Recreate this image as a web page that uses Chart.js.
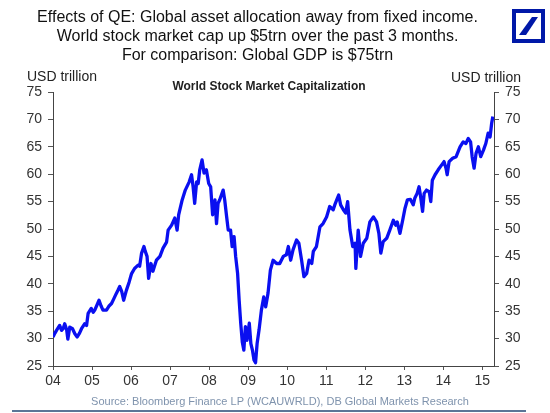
<!DOCTYPE html>
<html lang="en">
<head>
<meta charset="UTF-8">
<title>World Stock Market Capitalization</title>
<script src="https://cdn.jsdelivr.net/npm/chart.js@4.4.0"></script>
<style>
  html, body { margin: 0; padding: 0; background: #fff; }
  #wrap { width: 550px; height: 413px; position: relative; }
</style>
</head>
<body>
<div id="wrap"><canvas id="myChart"></canvas></div>
<script>
// Headline, labels and source line
const headline = [
  'Effects of QE: Global asset allocation away from fixed income.',
  'World stock market cap up $5trn over the past 3 months.',
  'For comparison: Global GDP is $75trn'
];
const chartTitle = 'World Stock Market Capitalization';
const unitLabel = 'USD trillion';
const sourceNote = 'Source: Bloomberg Finance LP (WCAUWRLD), DB Global Markets Research';

// Market cap (decimal year -> USD trillion)
const years = [
  2004.00, 2004.05, 2004.09, 2004.17, 2004.22, 2004.26, 2004.30, 2004.35, 2004.38, 2004.43,
  2004.50, 2004.56, 2004.62, 2004.68, 2004.73, 2004.81, 2004.86, 2004.90, 2004.98, 2005.03,
  2005.07, 2005.18, 2005.23, 2005.28, 2005.37, 2005.43, 2005.50, 2005.56, 2005.62, 2005.67,
  2005.71, 2005.76, 2005.81, 2005.88, 2005.95, 2006.01, 2006.09, 2006.18, 2006.22, 2006.27,
  2006.33, 2006.36, 2006.41, 2006.45, 2006.51, 2006.56, 2006.60, 2006.65, 2006.74, 2006.82,
  2006.91, 2006.95, 2007.04, 2007.12, 2007.18, 2007.22, 2007.31, 2007.39, 2007.49, 2007.55,
  2007.59, 2007.63, 2007.68, 2007.72, 2007.76, 2007.82, 2007.87, 2007.93, 2007.99, 2008.04,
  2008.09, 2008.15, 2008.19, 2008.23, 2008.27, 2008.36, 2008.40, 2008.45, 2008.49, 2008.55,
  2008.59, 2008.64, 2008.68, 2008.73, 2008.77, 2008.81, 2008.85, 2008.89, 2008.93, 2008.97,
  2009.03, 2009.07, 2009.11, 2009.15, 2009.19, 2009.23, 2009.28, 2009.34, 2009.40, 2009.45,
  2009.51, 2009.57, 2009.64, 2009.73, 2009.81, 2009.90, 2009.98, 2010.03, 2010.09, 2010.15,
  2010.24, 2010.30, 2010.37, 2010.43, 2010.50, 2010.56, 2010.63, 2010.67, 2010.75, 2010.84,
  2010.92, 2011.01, 2011.09, 2011.18, 2011.22, 2011.27, 2011.32, 2011.37, 2011.44, 2011.50,
  2011.55, 2011.61, 2011.68, 2011.74, 2011.76, 2011.82, 2011.88, 2011.95, 2012.04, 2012.12,
  2012.21, 2012.29, 2012.35, 2012.40, 2012.46, 2012.55, 2012.63, 2012.72, 2012.78, 2012.82,
  2012.89, 2012.96, 2013.02, 2013.08, 2013.16, 2013.23, 2013.27, 2013.33, 2013.38, 2013.42,
  2013.47, 2013.51, 2013.57, 2013.64, 2013.68, 2013.72, 2013.79, 2013.87, 2013.96, 2014.02,
  2014.07, 2014.10, 2014.15, 2014.24, 2014.33, 2014.43, 2014.51, 2014.58, 2014.64, 2014.70,
  2014.74, 2014.79, 2014.84, 2014.90, 2014.96, 2015.03, 2015.09, 2015.15, 2015.20, 2015.24,
  2015.27
];
const capTrn = [
  30.3, 31.0, 31.5, 32.4, 31.5, 31.8, 32.7, 31.6, 29.9, 32.1,
  31.8, 30.9, 30.3, 31.0, 31.8, 32.7, 32.4, 34.6, 35.5, 34.8,
  35.2, 37.0, 36.0, 35.2, 35.2, 35.9, 36.4, 37.3, 38.2, 38.9,
  39.5, 38.6, 37.0, 38.8, 40.3, 41.8, 42.8, 43.4, 43.2, 45.6,
  46.8, 46.0, 45.0, 41.0, 43.7, 42.3, 43.2, 44.3, 45.0, 46.5,
  47.6, 49.8, 50.7, 52.0, 49.8, 52.6, 55.3, 57.1, 58.6, 59.9,
  57.7, 54.7, 58.6, 58.3, 60.8, 62.6, 60.2, 60.8, 58.3, 57.7,
  52.6, 55.3, 51.0, 54.7, 55.3, 57.1, 55.3, 52.2, 49.8, 49.8,
  46.8, 48.6, 45.0, 41.9, 37.0, 32.8, 29.4, 27.9, 32.2, 29.7,
  32.8, 29.1, 27.9, 26.1, 25.6, 29.1, 31.6, 35.2, 37.6, 35.8,
  38.3, 42.5, 44.3, 43.7, 43.7, 45.0, 45.3, 46.8, 44.3, 46.2,
  48.0, 47.4, 44.3, 41.3, 41.9, 44.3, 43.7, 45.9, 46.8, 50.4,
  51.0, 52.2, 54.1, 53.5, 54.4, 55.3, 56.2, 54.4, 53.5, 52.9,
  55.0, 49.8, 46.8, 47.4, 42.8, 49.8, 45.0, 47.4, 48.3, 51.3,
  52.2, 51.3, 49.2, 45.6, 47.7, 48.3, 49.8, 51.6, 50.7, 51.3,
  49.2, 51.6, 53.8, 55.3, 55.4, 54.4, 55.6, 56.5, 57.7, 55.9,
  53.2, 56.5, 57.1, 56.8, 55.0, 58.9, 59.9, 60.8, 61.7, 62.3,
  61.1, 59.9, 62.3, 62.9, 63.2, 65.0, 65.9, 65.6, 66.5, 65.9,
  63.2, 61.1, 63.8, 65.0, 63.2, 64.4, 65.6, 67.5, 66.8, 69.3,
  70.5
];

const FONT = '"Liberation Sans", Arial, sans-serif';

// texts around the plot + logo
const decor = {
  id: 'decor',
  afterDraw(chart) {
    const c = chart.ctx;
    c.save();
    c.textBaseline = 'middle';
    c.fillStyle = '#111';
    c.textAlign = 'center';
    c.font = '16px ' + FONT;
    headline.forEach((t, i) => c.fillText(t, 257.5, 18 + i * 19));

    c.font = '14px ' + FONT;
    c.fillStyle = '#222';
    c.textAlign = 'left';
    c.fillText(unitLabel, 27, 77);
    c.textAlign = 'right';
    c.fillText(unitLabel, 521, 78);

    c.font = 'bold 12px ' + FONT;
    c.textAlign = 'center';
    c.fillText(chartTitle, 269, 87);

    c.font = '11px ' + FONT;
    c.fillStyle = '#7f93ad';
    c.fillText(sourceNote, 280, 402);

    c.strokeStyle = '#5a7597';
    c.lineWidth = 2;
    c.beginPath();
    c.moveTo(12, 411);
    c.lineTo(526, 411);
    c.stroke();

    // DB logo
    c.fillStyle = '#0018a8';
    c.fillRect(512, 9, 33, 34);
    c.fillStyle = '#fff';
    c.fillRect(516, 13, 25, 26);
    c.fillStyle = '#0018a8';
    c.beginPath();
    c.moveTo(519, 35);
    c.lineTo(526, 35);
    c.lineTo(538, 17);
    c.lineTo(532, 17);
    c.closePath();
    c.fill();
    c.restore();
  }
};

const tickFont = { family: FONT, size: 14 };

const ctx = document.getElementById('myChart').getContext('2d');
const myChart = new Chart(ctx, {
  type: 'line',
  data: {
    datasets: [{
      label: chartTitle,
      data: years.map((y, i) => ({ x: y, y: capTrn[i] })),
      borderColor: '#0a0ff0',
      borderWidth: 3.3,
      borderJoinStyle: 'round',
      pointRadius: 0,
      tension: 0,
      fill: false,
      yAxisID: 'y'
    }]
  },
  options: {
    responsive: true,
    maintainAspectRatio: false,
    animation: false,
    layout: { padding: { top: 92, left: 0, right: 0, bottom: 0 } },
    plugins: {
      legend: { display: false },
      tooltip: { enabled: false }
    },
    scales: {
      x: {
        type: 'linear',
        min: 2004,
        max: 2015.3,
        ticks: {
          stepSize: 1,
          includeBounds: false,
          autoSkip: false,
          maxRotation: 0,
          font: tickFont,
          color: '#333',
          padding: 3,
          callback: v => Number.isInteger(v) ? String(v).slice(2) : ''
        },
        grid: { drawOnChartArea: false, tickLength: 4, color: '#555' },
        border: { color: '#444', width: 1 },
        afterFit: s => { s.height = 47; }
      },
      y: {
        position: 'left',
        min: 25,
        max: 75,
        ticks: { stepSize: 5, font: tickFont, color: '#333', padding: 6 },
        grid: { drawOnChartArea: false, tickLength: 5, color: '#555' },
        border: { color: '#444', width: 1 },
        afterFit: s => { s.width = 53; }
      },
      y2: {
        position: 'right',
        min: 25,
        max: 75,
        ticks: { stepSize: 5, font: tickFont, color: '#333', padding: 6 },
        grid: { drawOnChartArea: false, tickLength: 5, color: '#555' },
        border: { color: '#444', width: 1 },
        afterFit: s => { s.width = 56; }
      }
    }
  },
  plugins: [decor]
});
</script>
</body>
</html>
